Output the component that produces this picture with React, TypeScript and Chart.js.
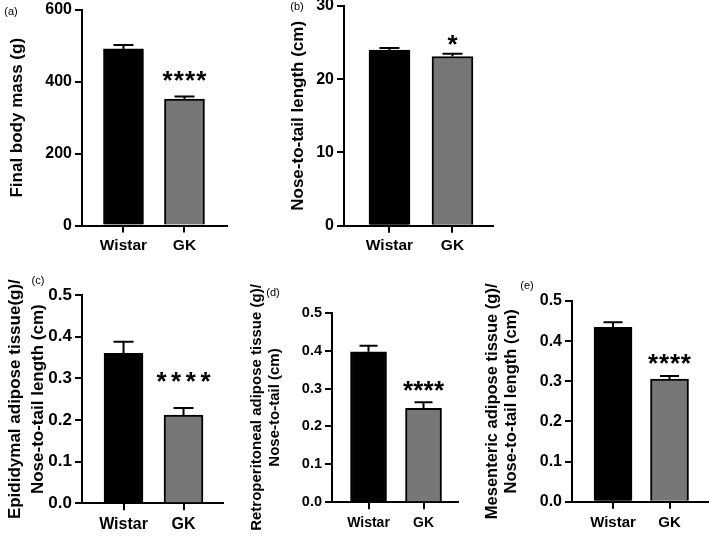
import React, { useEffect, useRef } from 'react';
import { Chart, registerables } from 'chart.js';

Chart.register(...registerables);

// ---------- data ----------
const categories = ['Wistar', 'GK'];
const barColors = ['#000000', '#777777'];

const bodyMassMean = [491.6, 352.0];
const bodyMassSem = [11.2, 7.0];
const bodyMassTicks = [0, 200, 400, 600];
const bodyMassSig = ['', '****'];
const bodyMassSigY = [0, 417];

const lengthMean = [23.97, 23.1];
const lengthSem = [0.28, 0.37];
const lengthTicks = [0, 10, 20, 30];
const lengthSig = ['', '*'];
const lengthSigY = [0, 25.4];

const fatTicks = [0, 0.1, 0.2, 0.3, 0.4, 0.5];

const epididymalMean = [0.36, 0.212];
const epididymalSem = [0.028, 0.017];
const epididymalSig = ['', '****'];
const epididymalSigY = [0, 0.303];

const retroMean = [0.397, 0.248];
const retroSem = [0.016, 0.016];
const retroSig = ['', '****'];
const retroSigY = [0, 0.307];

const mesentericMean = [0.4345, 0.3057];
const mesentericSem = [0.0125, 0.0073];
const mesentericSig = ['', '****'];
const mesentericSigY = [0, 0.355];

// ---------- layout ----------
const FONT = '"Liberation Sans", Arial, Helvetica, sans-serif';

type Box = { left: number; top: number; width: number; height: number };
type Spec = {
  letter: string;
  letterX: number;
  letterY: number;
  means: number[];
  sems: number[];
  ticks: number[];
  decimals: number;
  sig: string[];
  sigY: number[];
  title: string | string[];
  box: Box;
  axisX: number;
  plotTop: number;
  plotRight: number;
  plotBottom: number;
  xMin: number;
  xMax: number;
  barThickness: number;
  titleFont: number;
  titleLH: number;
  titleX: number;
  tickFont: number;
  labelFont: number;
  labelPad: number;
  starGap: number;
  capHalf: number;
};

const panels: Spec[] = [
  {
    letter: '(a)', letterX: 11, letterY: 11,
    means: bodyMassMean, sems: bodyMassSem, ticks: bodyMassTicks, decimals: 0,
    sig: bodyMassSig, sigY: bodyMassSigY,
    title: 'Final body mass (g)',
    box: { left: 0, top: 0, width: 236, height: 262 },
    axisX: 82, plotTop: 10, plotRight: 227, plotBottom: 225.5,
    xMin: -0.68, xMax: 1.697, barThickness: 40,
    titleFont: 17, titleLH: 1.2, titleX: 17,
    tickFont: 16, labelFont: 15.5, labelPad: 4, starGap: 11.3, capHalf: 10,
  },
  {
    letter: '(b)', letterX: 297, letterY: 6,
    means: lengthMean, sems: lengthSem, ticks: lengthTicks, decimals: 0,
    sig: lengthSig, sigY: lengthSigY,
    title: 'Nose-to-tail length (cm)',
    box: { left: 270, top: 0, width: 232, height: 262 },
    axisX: 344, plotTop: 6, plotRight: 493, plotBottom: 225.7,
    xMin: -0.722, xMax: 1.643, barThickness: 41,
    titleFont: 17, titleLH: 1.2, titleX: 298,
    tickFont: 16, labelFont: 15.5, labelPad: 4, starGap: 11, capHalf: 10,
  },
  {
    letter: '(c)', letterX: 38, letterY: 280,
    means: epididymalMean, sems: epididymalSem, ticks: fatTicks, decimals: 1,
    sig: epididymalSig, sigY: epididymalSigY,
    title: ['Epididymal adipose tissue(g)/', 'Nose-to-tail length (cm)'],
    box: { left: 0, top: 262, width: 232, height: 276 },
    axisX: 82, plotTop: 295, plotRight: 223, plotBottom: 503.3,
    xMin: -0.692, xMax: 1.658, barThickness: 39,
    titleFont: 17, titleLH: 1.35, titleX: 15,
    tickFont: 17, labelFont: 16, labelPad: 5, starGap: 14.7, capHalf: 10,
  },
  {
    letter: '(d)', letterX: 273, letterY: 292,
    means: retroMean, sems: retroSem, ticks: fatTicks, decimals: 1,
    sig: retroSig, sigY: retroSigY,
    title: ['Retroperitoneal adipose tissue (g)/', 'Nose-to-tail (cm)'],
    box: { left: 240, top: 262, width: 222, height: 276 },
    axisX: 332, plotTop: 312.7, plotRight: 458, plotBottom: 502.3,
    xMin: -0.664, xMax: 1.627, barThickness: 36,
    titleFont: 15, titleLH: 1.2, titleX: 257,
    tickFont: 14.5, labelFont: 14, labelPad: 5, starGap: 10.3, capHalf: 9,
  },
  {
    letter: '(e)', letterX: 527, letterY: 285,
    means: mesentericMean, sems: mesentericSem, ticks: fatTicks, decimals: 1,
    sig: mesentericSig, sigY: mesentericSigY,
    title: ['Mesenteric adipose tissue (g)/', 'Nose-to-tail length (cm)'],
    box: { left: 470, top: 262, width: 239, height: 276 },
    axisX: 572, plotTop: 301, plotRight: 709, plotBottom: 501.7,
    xMin: -0.726, xMax: 1.699, barThickness: 38,
    titleFont: 16.5, titleLH: 1.2, titleX: 492,
    tickFont: 16, labelFont: 15, labelPad: 5, starGap: 10.9, capHalf: 9.5,
  },
];

const X_HEIGHT = 30;
const TICK_LEN = 7;

function Panel({ p }: { p: Spec }) {
  const ref = useRef<HTMLCanvasElement | null>(null);

  useEffect(() => {
    const canvas = ref.current;
    if (!canvas) return;
    const yWidth = p.axisX - p.box.left;
    const pad = {
      left: 0,
      top: p.plotTop - p.box.top,
      right: p.box.left + p.box.width - p.plotRight,
      bottom: p.box.top + p.box.height - p.plotBottom - X_HEIGHT,
    };
    const titleLinePx = p.titleFont * p.titleLH;
    const titlePadTop = p.titleX - p.box.left - titleLinePx / 2;

    const overlay = {
      id: 'errorBarsAndStars',
      afterDatasetsDraw(chart: any) {
        const { ctx } = chart;
        const xs = chart.scales.x;
        const ys = chart.scales.y;
        ctx.save();
        ctx.strokeStyle = '#000';
        ctx.lineWidth = 2;
        ctx.lineCap = 'butt';
        p.means.forEach((m, i) => {
          const x = xs.getPixelForValue(i);
          const y0 = ys.getPixelForValue(m);
          const y1 = ys.getPixelForValue(m + p.sems[i]);
          ctx.beginPath();
          ctx.moveTo(x, y0);
          ctx.lineTo(x, y1);
          ctx.moveTo(x - p.capHalf, y1);
          ctx.lineTo(x + p.capHalf, y1);
          ctx.stroke();
        });
        ctx.fillStyle = '#000';
        ctx.font = `bold 26px ${FONT}`;
        ctx.textAlign = 'center';
        ctx.textBaseline = 'alphabetic';
        p.sig.forEach((s, i) => {
          if (!s) return;
          const cx = xs.getPixelForValue(i);
          const cy = ys.getPixelForValue(p.sigY[i]);
          const chars = s.split('');
          const mt = ctx.measureText('*');
          const off = (mt.actualBoundingBoxAscent - mt.actualBoundingBoxDescent) / 2;
          chars.forEach((ch, k) => {
            const x = cx + (k - (chars.length - 1) / 2) * p.starGap;
            ctx.fillText(ch, x, cy + off);
          });
        });
        ctx.restore();
      },
    };

    const chart = new Chart(canvas, {
      type: 'bar',
      data: {
        datasets: [
          {
            data: categories.map((_, i) => ({ x: i, y: p.means[i] })) as any,
            backgroundColor: barColors,
            borderColor: '#000',
            borderWidth: 2,
            borderSkipped: 'start',
            barThickness: p.barThickness,
          },
        ],
      },
      options: {
        responsive: false,
        maintainAspectRatio: false,
        animation: false,
        events: [],
        layout: { padding: pad },
        plugins: { legend: { display: false }, tooltip: { enabled: false } },
        scales: {
          x: {
            type: 'linear',
            min: p.xMin,
            max: p.xMax,
            offset: false,
            grid: {
              display: true,
              drawOnChartArea: false,
              drawTicks: true,
              tickLength: TICK_LEN,
              lineWidth: 2,
              color: '#000',
              offset: false,
            },
            border: { display: true, color: '#000', width: 2 },
            ticks: {
              color: '#000',
              font: { family: FONT, size: p.labelFont, weight: 'bold' },
              padding: p.labelPad,
              autoSkip: false,
              maxRotation: 0,
              callback: (v: any) => categories[Number(v)] ?? '',
            },
            afterBuildTicks: (s: any) => {
              s.ticks = categories.map((_, i) => ({ value: i }));
            },
            afterFit: (s: any) => {
              s.height = X_HEIGHT;
              s.paddingLeft = 0;
              s.paddingRight = 0;
              s.paddingTop = 0;
              s.paddingBottom = 0;
            },
          } as any,
          y: {
            type: 'linear',
            min: p.ticks[0],
            max: p.ticks[p.ticks.length - 1],
            grid: {
              display: true,
              drawOnChartArea: false,
              drawTicks: true,
              tickLength: TICK_LEN,
              lineWidth: 2,
              color: '#000',
            },
            border: { display: true, color: '#000', width: 2 },
            ticks: {
              color: '#000',
              font: { family: FONT, size: p.tickFont, weight: 'bold' },
              padding: 3,
              callback: (v: any) => Number(v).toFixed(p.decimals),
            },
            title: {
              display: true,
              text: p.title,
              color: '#000',
              font: { family: FONT, size: p.titleFont, weight: 'bold', lineHeight: p.titleLH },
              padding: { top: titlePadTop, bottom: 0 },
            },
            afterBuildTicks: (s: any) => {
              s.ticks = p.ticks.map((v) => ({ value: v }));
            },
            afterFit: (s: any) => {
              s.width = yWidth;
              s.paddingLeft = 0;
              s.paddingRight = 0;
              s.paddingTop = 0;
              s.paddingBottom = 0;
            },
          } as any,
        },
      },
      plugins: [overlay],
    });
    return () => chart.destroy();
  }, [p]);

  return (
    <>
      <canvas
        ref={ref}
        width={p.box.width}
        height={p.box.height}
        style={{
          position: 'absolute',
          left: p.box.left,
          top: p.box.top,
          width: p.box.width,
          height: p.box.height,
        }}
      />
      <div
        style={{
          position: 'absolute',
          left: p.letterX - 10,
          top: p.letterY - 7,
          width: 20,
          height: 14,
          lineHeight: '14px',
          fontSize: 11,
          fontFamily: FONT,
          textAlign: 'center',
          color: '#000',
        }}
      >
        {p.letter}
      </div>
    </>
  );
}

export default function App() {
  return (
    <div
      style={{
        position: 'absolute',
        left: 0,
        top: 0,
        width: 709,
        height: 538,
        background: '#fff',
        overflow: 'hidden',
      }}
    >
      {panels.map((p) => (
        <Panel key={p.letter} p={p} />
      ))}
    </div>
  );
}
